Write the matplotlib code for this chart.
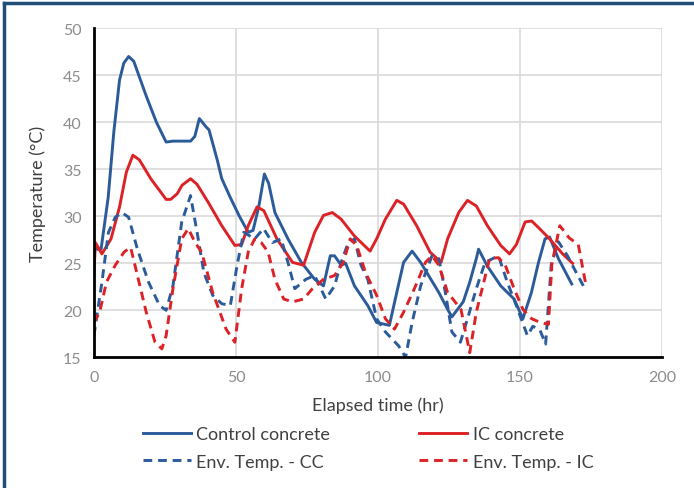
import numpy as np
import matplotlib.pyplot as plt
from matplotlib.lines import Line2D

# Control concrete (solid blue)
t_cc = [0, 1, 2.5, 5, 7, 9, 10.5, 12.2, 14, 18.4, 22, 25.4, 27.8, 34, 35.5, 37.1, 39.5, 40.5,
        43.4, 45, 48, 51.2, 54.3, 56, 58, 60, 61.5, 63.7, 68.3, 73, 77.7, 80.8, 83.2, 84.7,
        87, 88.6, 91.7, 96.4, 99.5, 104, 106.6, 109, 112, 115, 121.4, 124.5, 126, 130, 132.3,
        134.6, 135.4, 138.5, 143.2, 147.9, 151, 154, 156.5, 158.8, 160.4, 163.5, 168.2]
T_cc = [26.8, 26.5, 26.5, 32, 39, 44.5, 46.3, 47, 46.5, 42.8, 40, 37.9, 38, 38, 38.5, 40.4, 39.5,
        39.2, 36, 34, 32, 30, 28.3, 28.5, 31, 34.5, 33.5, 30.4, 27.6, 25.1, 23.3, 22.6, 25.8, 25.8,
        24.8, 25, 22.6, 20.5, 18.7, 18.4, 21.9, 25.1, 26.3, 25.1, 21.9, 20.1, 19.3, 20.9, 23,
        25.5, 26.5, 24.7, 22.6, 21.2, 19.1, 21.9, 25.1, 27.6, 27.8, 25.5, 22.8]

# IC concrete (solid red)
t_ic = [0, 0.5, 2.8, 6, 9, 11.4, 13.7, 16, 20, 25.4, 27, 29.3, 31, 34, 36.3, 40.2, 45, 49.6, 52,
        54.3, 57.4, 59.8, 64.4, 69.9, 73.8, 77.7, 80.8, 83.9, 87, 91.7, 97.2, 99.5, 102.6,
        106.6, 109, 113.6, 118.3, 122.2, 124.5, 128.4, 131.5, 134.6, 138.5, 143.2, 146.3,
        148.7, 151.8, 154.1, 156.5, 160.4, 165, 168.5]
T_ic = [23.8, 27.2, 26, 27.6, 31, 34.7, 36.5, 36, 34, 31.8, 31.8, 32.4, 33.3, 34, 33.4, 31.5, 29,
        26.9, 27, 29, 31, 30.6, 27.6, 25.1, 24.8, 28.3, 30.1, 30.4, 29.7, 27.9, 26.3, 27.6, 29.7,
        31.7, 31.3, 29, 26.2, 25.1, 27.6, 30.4, 31.7, 31.1, 29, 26.9, 26, 27, 29.4, 29.5, 28.8,
        27.6, 26, 25]

# Env. Temp. - CC (dashed blue)
t_ecc = [0, 2.8, 5.1, 7.5, 9.8, 12.2, 15.3, 19.2, 23.1, 25.4, 27.8, 30.9, 34, 36.3, 38.7, 41.8,
         45, 48, 50.4, 52.7, 56.6, 59.7, 62.8, 65.9, 68.3, 70.7, 74.6, 77.7, 81.6, 84.7, 87,
         89.4, 91.7, 94, 96.4, 99.5, 102.6, 107.3, 109.7, 112, 115, 119, 121.4, 123.7, 126, 129,
         131.5, 134.6, 137.7, 142.4, 145.5, 148.7, 152.6, 154.5, 157, 159, 161, 163.5, 166.7,
         169.8, 173]
T_ecc = [17.3, 23, 28.3, 29.9, 30.4, 29.9, 26.5, 23, 20.5, 20, 22.6, 29.4, 32.2, 28.3, 24, 21.6,
         20.7, 20.5, 24.8, 28.3, 27.6, 28.7, 27.2, 27.6, 25.1, 22.3, 23.3, 23.7, 21.2, 22.6, 25.1,
         27.1, 27.6, 24.8, 23.3, 19.1, 17.7, 16.2, 15, 18.7, 22.6, 25.8, 25.5, 21.9, 17.7, 16.6,
         19.1, 22.3, 25.1, 25.8, 23, 20.5, 17.3, 18.3, 17.9, 16.4, 24.9, 27.3, 25.8, 24, 22.2]

# Env. Temp. - IC (dashed red)
t_eic = [0, 2, 4.4, 7.5, 10.6, 12.9, 15.3, 18.4, 21.5, 23.9, 25.4, 27.8, 30.9, 33.2, 35.6, 37.9,
         41.8, 46.5, 49.6, 52, 54.3, 56.6, 58.9, 61.3, 63.7, 66.8, 69.9, 73.8, 76.9, 80.8, 84.7,
         87.8, 90.2, 92.5, 95.6, 99.5, 102.6, 105.8, 109, 112.8, 116.7, 119, 121.4, 124.5, 129.2,
         132.3, 134.6, 136.9, 139.3, 142.4, 144.8, 147.9, 151, 154.1, 157.2, 160, 161.2, 164,
         167.3, 170.5, 173]
T_eic = [18.7, 19.8, 23, 24.8, 26.2, 26.7, 23.7, 19.8, 16.6, 15.9, 17.3, 22.3, 27.6, 28.7, 27.2,
         26.2, 21.9, 18, 16.6, 22.3, 26.2, 27.6, 27.2, 26.2, 23.3, 21.2, 20.9, 21.2, 22.3, 23.3,
         23.7, 25.1, 27.6, 26.9, 24, 21.6, 19.1, 18, 19.8, 22.3, 25.1, 25.8, 24.8, 21.9, 20.1,
         15.5, 19.8, 22.6, 25.5, 25.6, 24.8, 22.3, 20.1, 19.1, 18.7, 18.5, 24.9, 29, 27.7, 27,
         23]

x_ticks = [0, 50, 100, 150, 200]
y_ticks = [15, 20, 25, 30, 35, 40, 45, 50]

blue = '#2c5b9a'
red = '#dc2226'
plt.rcParams['font.family'] = ['Lato', 'DejaVu Sans']

fig = plt.figure(figsize=(6.94, 4.89), dpi=100)
ax = fig.add_axes([0.1354, 0.2673, 0.8186, 0.6727])

lw = 2.1
dash = (3.0, 2.0)
ax.plot(t_cc, T_cc, color=blue, lw=lw, label='Control concrete')
ax.plot(t_ic, T_ic, color=red, lw=lw, label='IC concrete')
ax.plot(t_ecc, T_ecc, color=blue, lw=lw, dashes=dash, label='Env. Temp. - CC')
ax.plot(t_eic, T_eic, color=red, lw=lw, dashes=dash, label='Env. Temp. - IC')

ax.set_xlim(0, 200)
ax.set_ylim(15, 50)
ax.set_xticks(x_ticks)
ax.set_yticks(y_ticks)
ax.grid(True, color='#d9d9d9', lw=1.2)
ax.set_axisbelow(True)
ax.tick_params(length=0, labelsize=11.5, labelcolor='#8c8c8c', pad=9)
for s in ['top', 'right']:
    ax.spines[s].set_visible(False)
for s in ['left', 'bottom']:
    ax.spines[s].set_linewidth(2)
    ax.spines[s].set_color('black')

ax.set_xlabel('Elapsed time (hr)', fontsize=13, color='#404040', labelpad=9)
ax.set_ylabel('Temperature (°C)', fontsize=13, color='#404040', labelpad=12)

handles = [Line2D([], [], color=blue, lw=lw),
           Line2D([], [], color=blue, lw=lw, dashes=dash),
           Line2D([], [], color=red, lw=lw),
           Line2D([], [], color=red, lw=lw, dashes=dash)]
labels = ['Control concrete', 'Env. Temp. - CC', 'IC concrete', 'Env. Temp. - IC']
fig.legend(handles, labels, ncol=2, loc='upper left', bbox_to_anchor=(0.206, 0.127),
           frameon=False, fontsize=13, handlelength=2.65, handletextpad=0.3,
           columnspacing=4.95, labelspacing=0.65, labelcolor='#404040',
           borderaxespad=0, borderpad=0)

# outer frame (left and top edges visible)
fig.add_artist(Line2D([0.006, 0.006], [0, 0.992], color='#1f4e79', lw=2.5))
fig.add_artist(Line2D([0.006, 1], [0.992, 0.992], color='#1f4e79', lw=2.5))

fig.savefig('out.png', dpi=100)
